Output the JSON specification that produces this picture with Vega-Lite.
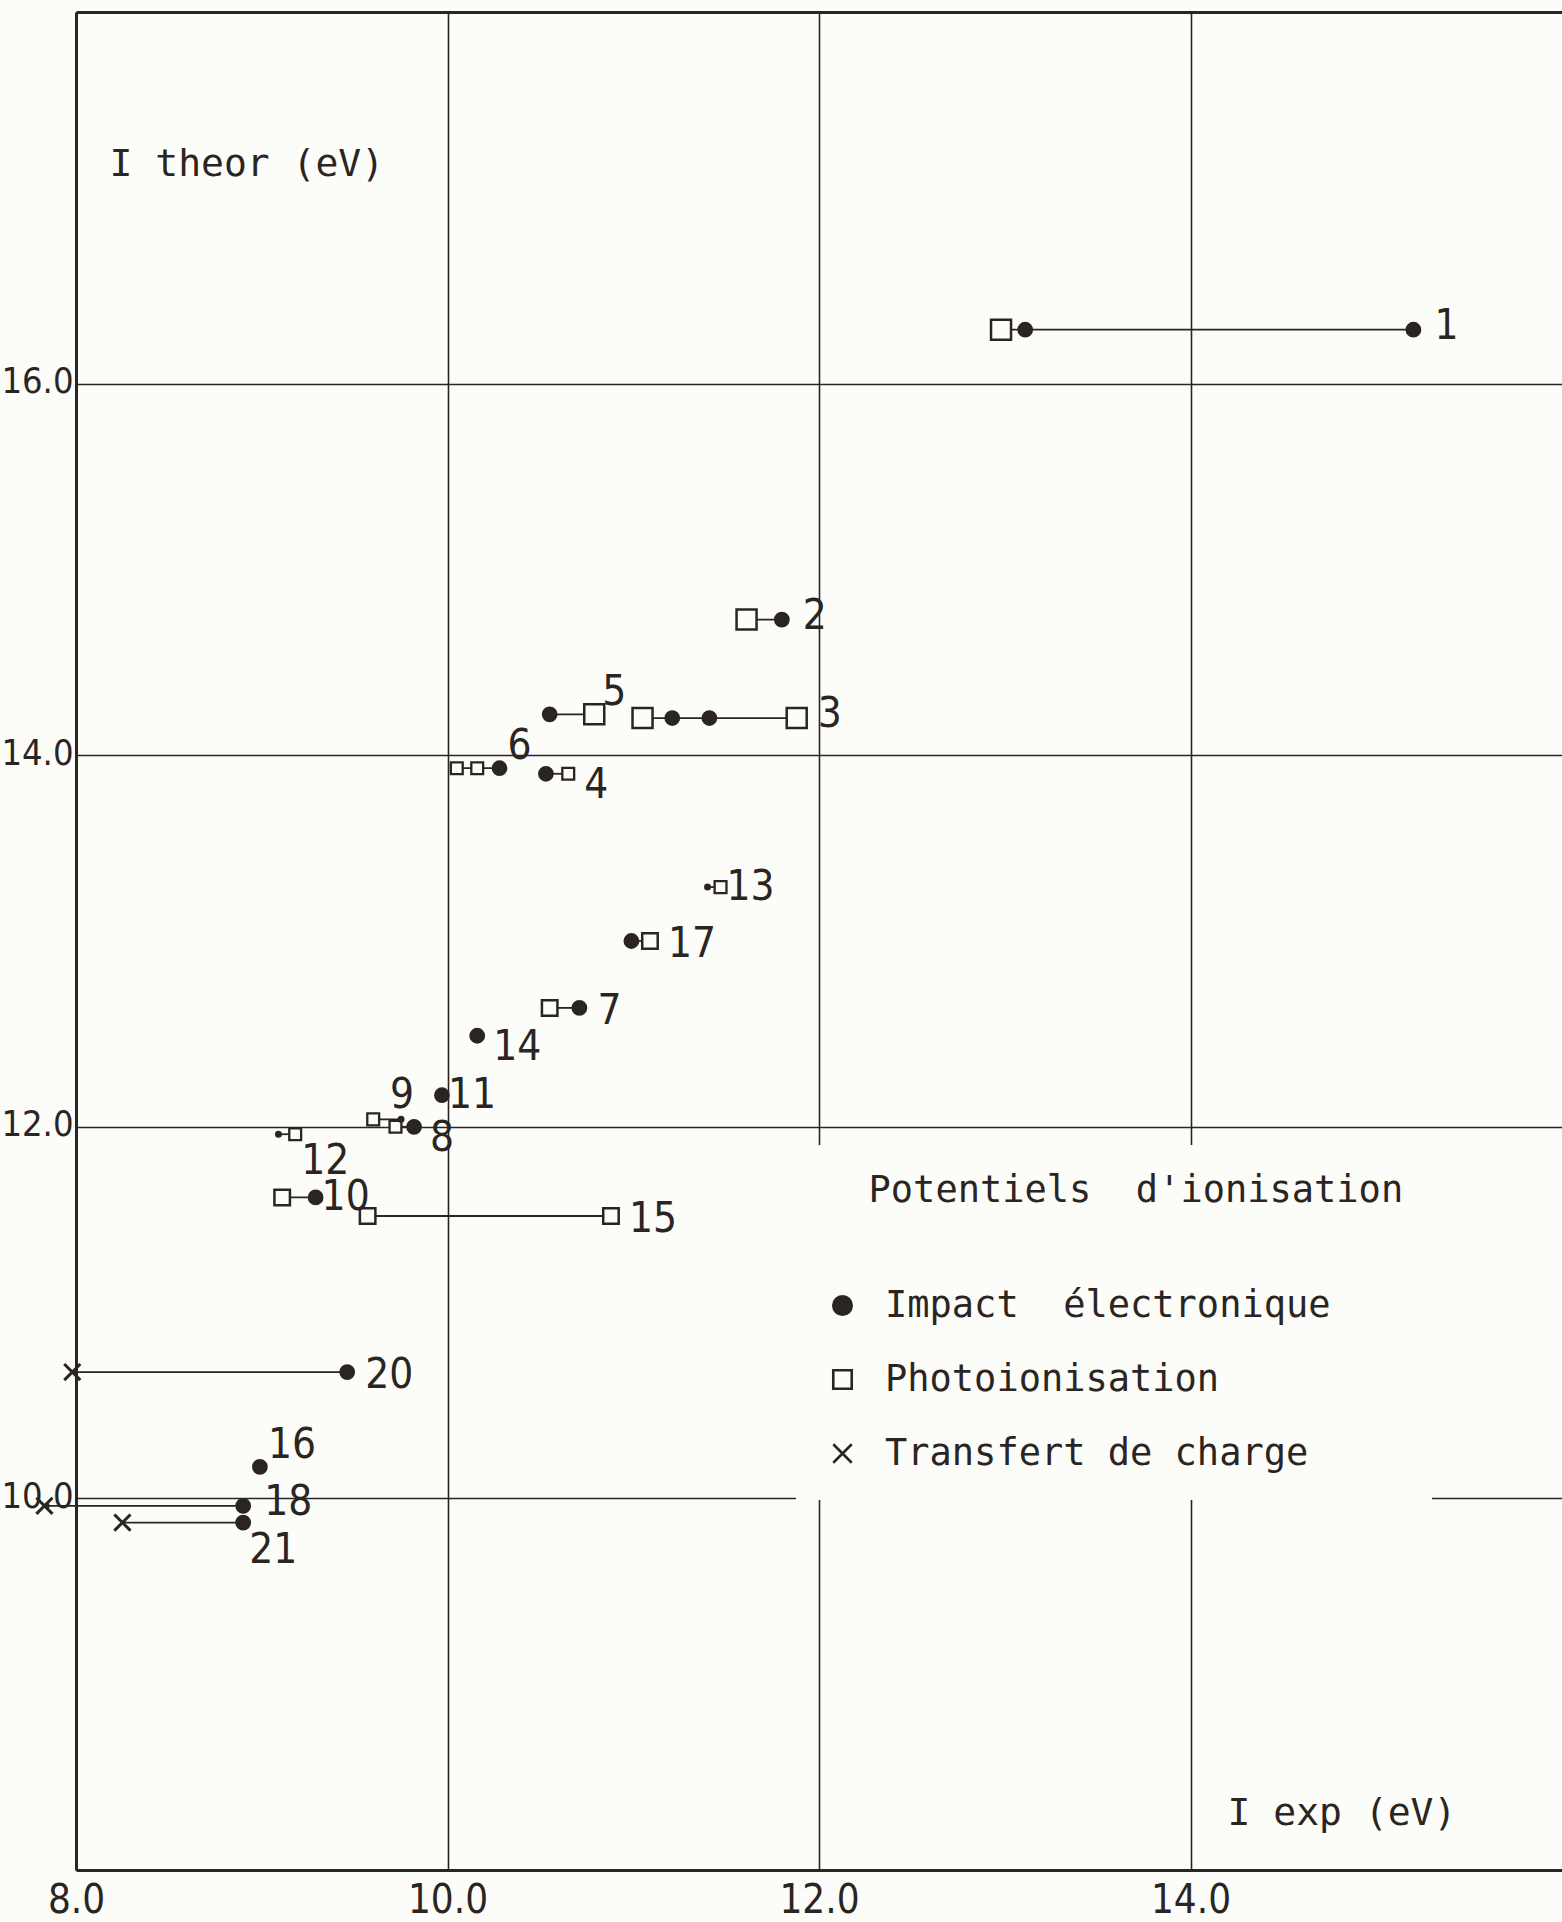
{
  "$schema": "https://vega.github.io/schema/vega-lite/v6.json",
  "width": 1486,
  "height": 1858,
  "autosize": {"type": "none"},
  "padding": {"left": 76, "top": 12, "right": 0, "bottom": 52},
  "background": "#fcfcf8",
  "config": {"view": {"stroke": null}},
  "datasets": {
    "pts": [
      {"c": 1, "m": "Photoionisation", "iexp": 12.98, "itheor": 16.29},
      {"c": 1, "m": "Impact électronique", "iexp": 13.11, "itheor": 16.29},
      {"c": 1, "m": "Impact électronique", "iexp": 15.20, "itheor": 16.29},
      {"c": 2, "m": "Photoionisation", "iexp": 11.61, "itheor": 14.73},
      {"c": 2, "m": "Impact électronique", "iexp": 11.80, "itheor": 14.73},
      {"c": 3, "m": "Photoionisation", "iexp": 11.05, "itheor": 14.20},
      {"c": 3, "m": "Impact électronique", "iexp": 11.21, "itheor": 14.20},
      {"c": 3, "m": "Impact électronique", "iexp": 11.41, "itheor": 14.20},
      {"c": 3, "m": "Photoionisation", "iexp": 11.88, "itheor": 14.20},
      {"c": 4, "m": "Impact électronique", "iexp": 10.53, "itheor": 13.90},
      {"c": 4, "m": "Photoionisation", "iexp": 10.65, "itheor": 13.90},
      {"c": 5, "m": "Impact électronique", "iexp": 10.55, "itheor": 14.22},
      {"c": 5, "m": "Photoionisation", "iexp": 10.79, "itheor": 14.22},
      {"c": 6, "m": "Photoionisation", "iexp": 10.05, "itheor": 13.93},
      {"c": 6, "m": "Photoionisation", "iexp": 10.16, "itheor": 13.93},
      {"c": 6, "m": "Impact électronique", "iexp": 10.28, "itheor": 13.93},
      {"c": 7, "m": "Photoionisation", "iexp": 10.55, "itheor": 12.64},
      {"c": 7, "m": "Impact électronique", "iexp": 10.71, "itheor": 12.64},
      {"c": 8, "m": "Photoionisation", "iexp": 9.72, "itheor": 12.00},
      {"c": 8, "m": "Impact électronique", "iexp": 9.82, "itheor": 12.00},
      {"c": 9, "m": "Photoionisation", "iexp": 9.60, "itheor": 12.04},
      {"c": 9, "m": "Impact électronique", "iexp": 9.75, "itheor": 12.04},
      {"c": 10, "m": "Photoionisation", "iexp": 9.11, "itheor": 11.62},
      {"c": 10, "m": "Impact électronique", "iexp": 9.29, "itheor": 11.62},
      {"c": 11, "m": "Impact électronique", "iexp": 9.97, "itheor": 12.17},
      {"c": 12, "m": "Impact électronique", "iexp": 9.09, "itheor": 11.96},
      {"c": 12, "m": "Photoionisation", "iexp": 9.18, "itheor": 11.96},
      {"c": 13, "m": "Impact électronique", "iexp": 11.40, "itheor": 13.29},
      {"c": 13, "m": "Photoionisation", "iexp": 11.47, "itheor": 13.29},
      {"c": 14, "m": "Impact électronique", "iexp": 10.16, "itheor": 12.49},
      {"c": 15, "m": "Photoionisation", "iexp": 9.57, "itheor": 11.52},
      {"c": 15, "m": "Photoionisation", "iexp": 10.88, "itheor": 11.52},
      {"c": 16, "m": "Impact électronique", "iexp": 8.99, "itheor": 10.17},
      {"c": 17, "m": "Impact électronique", "iexp": 10.99, "itheor": 13.00},
      {"c": 17, "m": "Photoionisation", "iexp": 11.09, "itheor": 13.00},
      {"c": 18, "m": "Transfert de charge", "iexp": 7.83, "itheor": 9.96},
      {"c": 18, "m": "Impact électronique", "iexp": 8.90, "itheor": 9.96},
      {"c": 20, "m": "Transfert de charge", "iexp": 7.98, "itheor": 10.68},
      {"c": 20, "m": "Impact électronique", "iexp": 9.46, "itheor": 10.68},
      {"c": 21, "m": "Transfert de charge", "iexp": 8.25, "itheor": 9.87},
      {"c": 21, "m": "Impact électronique", "iexp": 8.90, "itheor": 9.87}
    ]
  },
  "data": {"name": "pts"},
  "encoding": {
    "x": {
      "field": "iexp", "type": "quantitative",
      "scale": {"domain": [8, 16], "nice": false, "zero": false},
      "axis": {
        "values": [8, 10, 12, 14], "format": ".1f",
        "title": "I exp (eV)", "titleX": 1151, "titleY": -46, "titleAngle": 0,
        "titleAlign": "left", "titleBaseline": "alphabetic",
        "titleFont": "DejaVu Sans Mono", "titleFontSize": 38, "titleFontWeight": "normal", "titleColor": "#2a2522",
        "labelFont": "DejaVu Sans Condensed, DejaVu Sans", "labelFontSize": 40,
        "labelColor": "#2a2522", "labelPadding": 10, "labelFlush": false, "labelOverlap": false,
        "ticks": false, "domainColor": "#2a2522", "domainWidth": 3,
        "grid": true, "gridColor": "#2a2522", "gridWidth": 1.6, "gridOpacity": 1
      }
    },
    "y": {
      "field": "itheor", "type": "quantitative",
      "scale": {"domain": [8, 18], "nice": false, "zero": false},
      "axis": {
        "values": [10, 12, 14, 16, 18],
        "labelExpr": "datum.value >= 18 ? '' : format(datum.value, '.1f')",
        "title": "I theor (eV)", "titleX": 33, "titleY": 163, "titleAngle": 0,
        "titleAlign": "left", "titleBaseline": "alphabetic",
        "titleFont": "DejaVu Sans Mono", "titleFontSize": 38, "titleFontWeight": "normal", "titleColor": "#2a2522",
        "labelFont": "DejaVu Sans Condensed, DejaVu Sans", "labelFontSize": 36,
        "labelColor": "#2a2522", "labelPadding": 3, "labelOffset": -2, "labelOverlap": false, "labelFlush": false,
        "ticks": false, "domainColor": "#2a2522", "domainWidth": 3,
        "grid": true, "gridColor": "#2a2522", "gridOpacity": 1,
        "gridWidth": {"condition": {"test": "datum.value >= 18", "value": 3}, "value": 1.6}
      }
    }
  },
  "layer": [
    {
      "transform": [
        {"aggregate": [{"op": "min", "field": "iexp", "as": "iexp"}, {"op": "max", "field": "iexp", "as": "hi"}], "groupby": ["c", "itheor"]}
      ],
      "mark": {"type": "rule", "color": "#2a2522", "strokeWidth": 1.8},
      "encoding": {"x2": {"field": "hi"}}
    },
    {
      "transform": [{"filter": "datum.m == 'Photoionisation' && indexof([1,2,3,5], datum.c) >= 0"}],
      "mark": {"type": "point", "size": 400, "strokeWidth": 2.5, "opacity": 1},
      "encoding": {
        "shape": {
          "field": "m", "type": "nominal",
          "scale": {"domain": ["Impact électronique", "Photoionisation", "Transfert de charge"], "range": ["circle", "square", "M-1,-1L1,1M-1,1L1,-1"]},
          "legend": {
            "orient": "none", "legendX": 720, "legendY": 1133,
            "title": "\u200b\u00a0\u00a0Potentiels\u00a0\u00a0d'ionisation",
            "titleFont": "DejaVu Sans Mono", "titleFontSize": 37, "titleFontWeight": "normal", "titleColor": "#2a2522",
            "titlePadding": 77, "titleLimit": 2000,
            "labelFont": "DejaVu Sans Mono", "labelFontSize": 37, "labelColor": "#2a2522", "labelOffset": 24, "labelLimit": 0,
            "labelExpr": "datum.label == 'Impact électronique' ? 'Impact\u00a0\u00a0électronique' : datum.label",
            "symbolSize": 340, "symbolStrokeWidth": 2.6, "symbolStrokeColor": "#2a2522",
            "rowPadding": 36, "padding": 28, "fillColor": "#fcfcf8"
          }
        },
        "fill": {
          "field": "m", "type": "nominal",
          "scale": {"domain": ["Impact électronique", "Photoionisation", "Transfert de charge"], "range": ["#2a2522", "#fcfcf8", "transparent"]}
        },
        "stroke": {
          "field": "m", "type": "nominal",
          "scale": {"domain": ["Impact électronique", "Photoionisation", "Transfert de charge"], "range": ["#2a2522", "#2a2522", "#2a2522"]}
        }
      }
    },
    {
      "transform": [{"filter": "datum.m == 'Photoionisation' && indexof([7,10,15,17], datum.c) >= 0"}],
      "mark": {"type": "point", "size": 240, "strokeWidth": 2.5, "opacity": 1},
      "encoding": {
        "shape": {"field": "m", "type": "nominal"},
        "fill": {"field": "m", "type": "nominal"},
        "stroke": {"field": "m", "type": "nominal"}
      }
    },
    {
      "transform": [{"filter": "datum.m == 'Photoionisation' && indexof([4,6,8,9,12,13], datum.c) >= 0"}],
      "mark": {"type": "point", "size": 140, "strokeWidth": 2.3, "opacity": 1},
      "encoding": {
        "shape": {"field": "m", "type": "nominal"},
        "fill": {"field": "m", "type": "nominal"},
        "stroke": {"field": "m", "type": "nominal"}
      }
    },
    {
      "transform": [{"filter": "datum.m == 'Impact électronique' && indexof([9,12,13], datum.c) < 0"}],
      "mark": {"type": "point", "size": 190, "strokeWidth": 2, "opacity": 1},
      "encoding": {
        "shape": {"field": "m", "type": "nominal"},
        "fill": {"field": "m", "type": "nominal"},
        "stroke": {"field": "m", "type": "nominal"}
      }
    },
    {
      "transform": [{"filter": "datum.m == 'Impact électronique' && indexof([9,12,13], datum.c) >= 0"}],
      "mark": {"type": "point", "size": 25, "strokeWidth": 2, "opacity": 1},
      "encoding": {
        "shape": {"field": "m", "type": "nominal"},
        "fill": {"field": "m", "type": "nominal"},
        "stroke": {"field": "m", "type": "nominal"}
      }
    },
    {
      "transform": [{"filter": "datum.m == 'Transfert de charge'"}],
      "mark": {"type": "point", "size": 260, "strokeWidth": 3, "opacity": 1},
      "encoding": {
        "shape": {"field": "m", "type": "nominal"},
        "fill": {"field": "m", "type": "nominal"},
        "stroke": {"field": "m", "type": "nominal"}
      }
    },
    {
      "transform": [
        {"joinaggregate": [{"op": "max", "field": "iexp", "as": "mx"}], "groupby": ["c"]},
        {"filter": "datum.iexp == datum.mx && indexof([1,2,3,18], datum.c) >= 0"}
      ],
      "mark": {"type": "text", "align": "left", "baseline": "middle", "dx": 21, "dy": -4, "font": "DejaVu Sans Condensed, DejaVu Sans", "fontSize": 42, "color": "#2a2522"},
      "encoding": {"text": {"field": "c", "type": "nominal"}}
    },
    {
      "transform": [
        {"joinaggregate": [{"op": "max", "field": "iexp", "as": "mx"}], "groupby": ["c"]},
        {"filter": "datum.iexp == datum.mx && indexof([7,15,17,20], datum.c) >= 0"}
      ],
      "mark": {"type": "text", "align": "left", "baseline": "middle", "dx": 18, "dy": 3, "font": "DejaVu Sans Condensed, DejaVu Sans", "fontSize": 42, "color": "#2a2522"},
      "encoding": {"text": {"field": "c", "type": "nominal"}}
    },
    {
      "transform": [
        {"joinaggregate": [{"op": "max", "field": "iexp", "as": "mx"}], "groupby": ["c"]},
        {"filter": "datum.iexp == datum.mx && indexof([5,6,16], datum.c) >= 0"}
      ],
      "mark": {"type": "text", "align": "left", "baseline": "middle", "dx": 8, "dy": -22, "font": "DejaVu Sans Condensed, DejaVu Sans", "fontSize": 42, "color": "#2a2522"},
      "encoding": {"text": {"field": "c", "type": "nominal"}}
    },
    {
      "transform": [
        {"joinaggregate": [{"op": "max", "field": "iexp", "as": "mx"}], "groupby": ["c"]},
        {"filter": "datum.iexp == datum.mx && indexof([10,11,13], datum.c) >= 0"}
      ],
      "mark": {"type": "text", "align": "left", "baseline": "middle", "dx": 6, "dy": 0, "font": "DejaVu Sans Condensed, DejaVu Sans", "fontSize": 42, "color": "#2a2522"},
      "encoding": {"text": {"field": "c", "type": "nominal"}}
    },
    {
      "transform": [
        {"joinaggregate": [{"op": "max", "field": "iexp", "as": "mx"}], "groupby": ["c"]},
        {"filter": "datum.iexp == datum.mx && indexof([4,8,14], datum.c) >= 0"}
      ],
      "mark": {"type": "text", "align": "left", "baseline": "middle", "dx": 16, "dy": 11, "font": "DejaVu Sans Condensed, DejaVu Sans", "fontSize": 42, "color": "#2a2522"},
      "encoding": {"text": {"field": "c", "type": "nominal"}}
    },
    {
      "transform": [
        {"joinaggregate": [{"op": "max", "field": "iexp", "as": "mx"}], "groupby": ["c"]},
        {"filter": "datum.iexp == datum.mx && indexof([12,21], datum.c) >= 0"}
      ],
      "mark": {"type": "text", "align": "left", "baseline": "middle", "dx": 6, "dy": 27, "font": "DejaVu Sans Condensed, DejaVu Sans", "fontSize": 42, "color": "#2a2522"},
      "encoding": {"text": {"field": "c", "type": "nominal"}}
    },
    {
      "transform": [
        {"joinaggregate": [{"op": "max", "field": "iexp", "as": "mx"}], "groupby": ["c"]},
        {"filter": "datum.iexp == datum.mx && datum.c == 9"}
      ],
      "mark": {"type": "text", "align": "left", "baseline": "middle", "dx": -11, "dy": -24, "font": "DejaVu Sans Condensed, DejaVu Sans", "fontSize": 42, "color": "#2a2522"},
      "encoding": {"text": {"field": "c", "type": "nominal"}}
    }
  ]
}
